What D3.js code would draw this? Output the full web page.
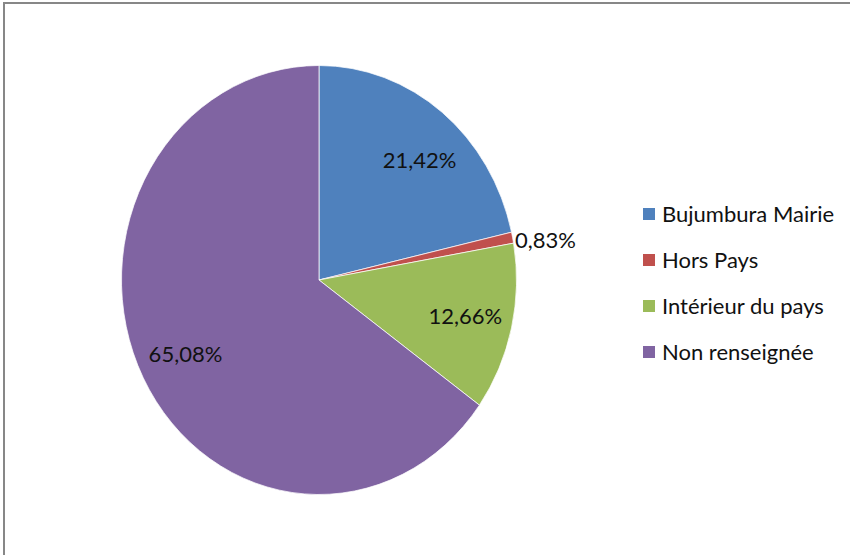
<!DOCTYPE html>
<html>
<head>
<meta charset="utf-8">
<script src="https://cdn.jsdelivr.net/npm/d3@7"></script>
<style>
	body { margin: 0; background: #fff; }
	svg { display: block; }
</style>
</head>
<body>
<div id="chart"></div>
<script>
var categories = ['Bujumbura Mairie', 'Hors Pays', 'Intérieur du pays', 'Non renseignée'];
var values = [21.42, 0.83, 12.66, 65.08];
var labels = ['21,42%', '0,83%', '12,66%', '65,08%'];
var colors = ['#4f81bd', '#c0504d', '#9bbb59', '#8064a2'];

var width = 850, height = 555;
var cx = 319, cy = 280;
var radius = 197.5;
var yStretch = 214.5 / 197.5; // the picture is a little taller than wide

var data = categories.map(function (c, i) {
	return { name: c, value: values[i], label: labels[i] };
});

var color = d3.scaleOrdinal().domain(categories).range(colors);

var svg = d3.select('#chart')
	.append('svg')
	.attr('width', width)
	.attr('height', height)
	.style('font-family', 'Lato, "Liberation Sans", sans-serif');

// outer frame, only left and top edges fall inside the picture
svg.append('rect')
	.attr('x', 4)
	.attr('y', 3)
	.attr('width', 900)
	.attr('height', 600)
	.attr('fill', 'none')
	.attr('stroke', '#878787')
	.attr('stroke-width', 2);

var pie = d3.pie()
	.value(function (d) { return d.value; })
	.sort(null);

var arc = d3.arc().innerRadius(0).outerRadius(radius);
var arcLabel = d3.arc().innerRadius(radius * 0.76).outerRadius(radius * 0.76);
var arcOut = d3.arc().innerRadius(radius * 1.17).outerRadius(radius * 1.17);

var arcs = pie(data);

var g = svg.append('g')
	.attr('transform', 'translate(' + cx + ',' + cy + ') scale(1,' + yStretch + ')');

g.selectAll('path')
	.data(arcs)
	.enter()
	.append('path')
	.attr('d', arc)
	.attr('fill', function (d) { return color(d.data.name); })
	.attr('stroke', '#fff')
	.attr('stroke-width', 0.7);

// labels drawn outside the stretched group so the text is not distorted
svg.append('g')
	.selectAll('text')
	.data(arcs)
	.enter()
	.append('text')
	.attr('transform', function (d) {
		var small = d.data.value < 2;
		var p = small ? arcOut.centroid(d) : arcLabel.centroid(d);
		var x = cx + p[0];
		var y = cy + p[1] * yStretch;
		if (small) y += 10;
		// first slice label sits a bit further round in the original
		if (d.index === 0) { x += 7; y += 8; }
		return 'translate(' + x + ',' + y + ')';
	})
	.attr('text-anchor', 'middle')
	.attr('dy', '0.35em')
	.attr('fill', '#111')
	.style('font-size', '22px')
	.text(function (d) { return d.data.label; });

// legend
var legend = svg.append('g')
	.attr('transform', 'translate(643,214)');

var row = legend.selectAll('g')
	.data(categories)
	.enter()
	.append('g')
	.attr('transform', function (d, i) { return 'translate(0,' + i * 46 + ')'; });

row.append('rect')
	.attr('x', 0)
	.attr('y', -6)
	.attr('width', 12)
	.attr('height', 12)
	.attr('fill', function (d) { return color(d); });

row.append('text')
	.attr('x', 19)
	.attr('y', 0)
	.attr('dy', '0.35em')
	.attr('fill', '#111')
	.style('font-size', '22px')
	.text(function (d) { return d; });
</script>
</body>
</html>
